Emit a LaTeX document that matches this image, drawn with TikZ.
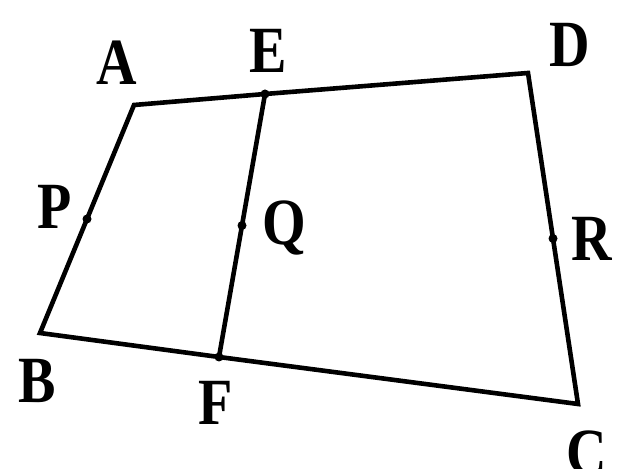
\documentclass[tikz,border=0pt]{standalone}
\usepackage{fontspec}
\setmainfont{Liberation Serif}
\usetikzlibrary{calc}

\tikzset{
    edge/.style={line width=2.3pt, line join=miter},
    pt/.style={circle, fill=black, inner sep=0pt, minimum size=4.5pt},
    lbl/.style={font=\fontsize{33}{33}\selectfont\bfseries, inner sep=0pt, xscale=0.85}
}

\begin{document}
\begin{tikzpicture}[x=0.5pt, y=-0.5pt]
        \useasboundingbox (0,0) rectangle (636,469);

        \coordinate (A) at (134,105);
        \coordinate (E) at (265,94);
        \coordinate (D) at (528,73);
        \coordinate (C) at (578,404);
        \coordinate (F) at (219,357);
        \coordinate (B) at (40,333);

        \draw[edge] (A) -- (E) -- (D) -- (C) -- (F) -- (B) -- cycle;
        \draw[edge] (E) -- (F);

        \node[pt] (P) at ($(A)!0.5!(B)$) {};
        \node[pt] (Q) at ($(E)!0.5!(F)$) {};
        \node[pt] (R) at ($(D)!0.5!(C)$) {};
        \node[pt] (e) at (E) {};
        \node[pt] (f) at (F) {};

        \node[lbl] (lA) at (117,63) {A};
        \node[lbl] (lE) at (268,51) {E};
        \node[lbl] (lD) at (570,45) {D};
        \node[lbl] (lP) at (55,207) {P};
        \node[lbl] (lQ) at (284,228) {Q};
        \node[lbl] (lR) at (592,239) {R};
        \node[lbl] (lB) at (37,381) {B};
        \node[lbl] (lF) at (216,403) {F};
        \node[lbl] (lC) at (587,453) {C};
\end{tikzpicture}
\end{document}
